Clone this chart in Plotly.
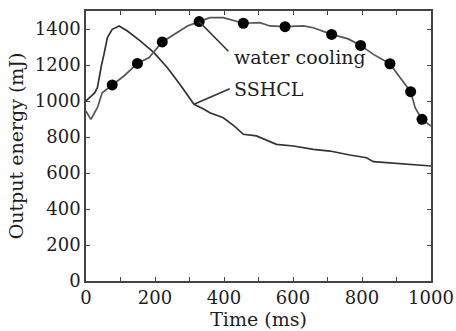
import plotly.graph_objects as go

# SSHCL curve
sshcl_t = [0, 14, 25, 33, 38, 45, 52, 62, 76, 96, 120, 158, 197, 236, 272, 313, 342, 359, 398, 430, 456, 494, 552, 601, 659, 707, 765, 813, 833, 910, 960, 1000]
sshcl_v = [1000, 1028, 1045, 1074, 1130, 1200, 1259, 1352, 1398, 1417, 1389, 1333, 1269, 1185, 1093, 982, 954, 935, 907, 860, 815, 806, 759, 750, 731, 722, 700, 685, 663, 652, 645, 639]

# water cooling curve
water_t = [0, 14, 33, 47, 76, 110, 149, 183, 221, 255, 294, 328, 359, 398, 456, 504, 533, 577, 630, 659, 712, 760, 796, 833, 881, 910, 941, 954, 974, 1000]
water_v = [944, 898, 963, 1046, 1089, 1139, 1209, 1241, 1328, 1370, 1417, 1441, 1463, 1463, 1432, 1435, 1417, 1413, 1417, 1407, 1370, 1345, 1309, 1259, 1207, 1130, 1052, 963, 898, 861]

# markers on the water cooling curve
mark_t = [76, 149, 221, 328, 456, 577, 712, 796, 881, 941, 974]
mark_v = [1089, 1209, 1328, 1441, 1432, 1413, 1370, 1309, 1207, 1052, 898]

x_ticks = [0, 200, 400, 600, 800, 1000]
y_ticks = [0, 200, 400, 600, 800, 1000, 1200, 1400]

font = "DejaVu Serif"
txt = "#1e1e1e"

fig = go.Figure()
fig.add_trace(go.Scatter(x=sshcl_t, y=sshcl_v, mode="lines",
                         line=dict(color="#333333", width=1.7), name="SSHCL"))
fig.add_trace(go.Scatter(x=water_t, y=water_v, mode="lines",
                         line=dict(color="#555555", width=1.7), name="water cooling"))
fig.add_trace(go.Scatter(x=mark_t, y=mark_v, mode="markers",
                         marker=dict(color="black", size=11), name="markers"))

# leader lines and labels
fig.add_annotation(x=328, y=1441, ax=417, ay=1268, axref="x", ayref="y",
                   showarrow=True, arrowhead=0, arrowwidth=1.5, arrowcolor="#333333", text="")
fig.add_annotation(x=422, y=1245, text="water cooling", showarrow=False, xanchor="left",
                   font=dict(family=font, size=19, color=txt))
fig.add_annotation(x=313, y=982, ax=421, ay=1072, axref="x", ayref="y",
                   showarrow=True, arrowhead=0, arrowwidth=1.5, arrowcolor="#333333", text="")
fig.add_annotation(x=424, y=1068, text="SSHCL", showarrow=False, xanchor="left",
                   font=dict(family=font, size=19, color=txt))

axis_common = dict(showgrid=False, zeroline=False, showline=True, linecolor="#444444",
                   linewidth=1.5, mirror="ticks", ticks="inside", ticklen=4,
                   tickcolor="#444444", tickwidth=1.2, automargin=False,
                   tickfont=dict(family=font, size=18, color=txt))

fig.update_xaxes(range=[0, 1000], tickvals=x_ticks, ticktext=[str(v) for v in x_ticks],
                 minor=dict(dtick=100, tick0=0, ticks="inside", ticklen=4, tickcolor="#444444"),
                 title=dict(text="Time (ms)", font=dict(family=font, size=19, color=txt), standoff=0),
                 **axis_common)
fig.update_yaxes(range=[0, 1500], tickvals=y_ticks, ticktext=[str(v) for v in y_ticks],
                 title=dict(text="Output energy (mJ)", font=dict(family=font, size=19, color=txt), standoff=6),
                 **axis_common)

fig.update_layout(width=456, height=331, showlegend=False,
                  margin=dict(l=86, r=25, t=11, b=50),
                  plot_bgcolor="white", paper_bgcolor="white")

fig.write_html("out.html", config={"displayModeBar": False},
               post_script="document.body.style.margin='0';document.body.style.overflow='hidden';")
